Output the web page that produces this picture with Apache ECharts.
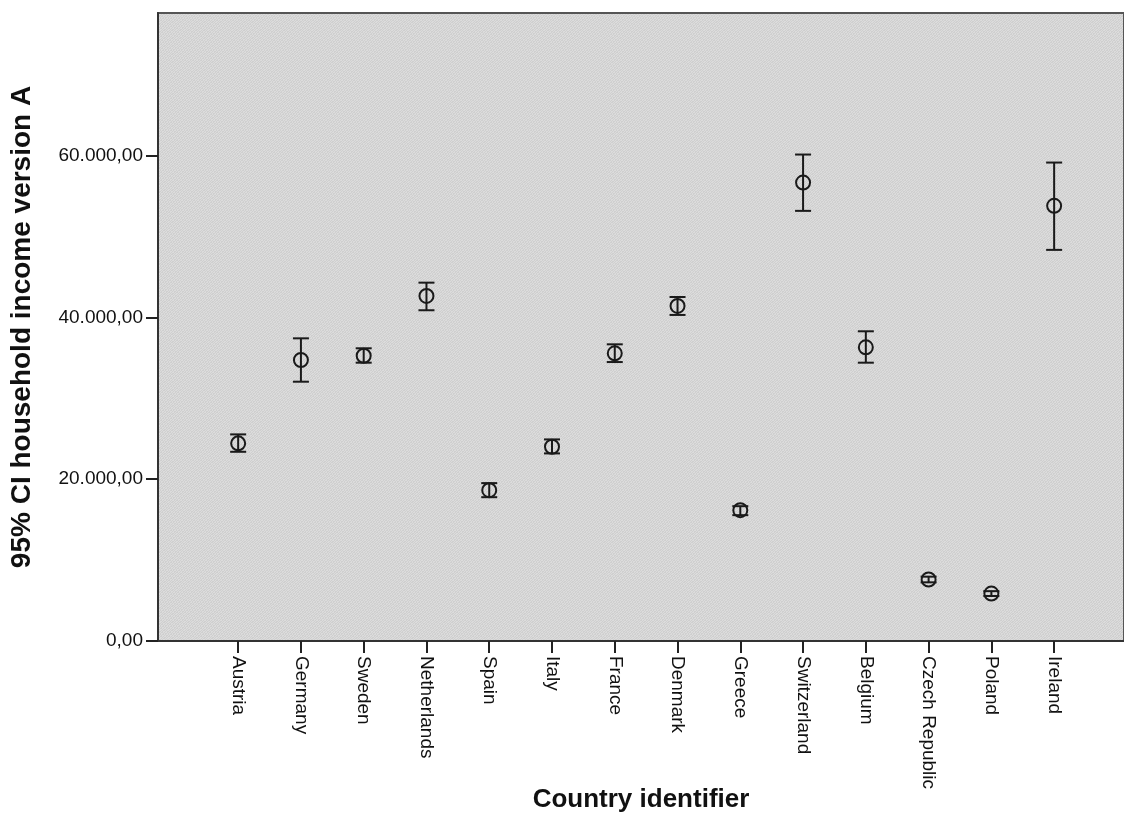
<!DOCTYPE html>
<html>
<head>
<meta charset="utf-8">
<script src="https://cdn.jsdelivr.net/npm/echarts@6/dist/echarts.min.js"></script>
<style>
  html, body { margin: 0; padding: 0; background: #ffffff; }
  #chart { width: 1124px; height: 833px; }
</style>
</head>
<body>
<div id="chart"></div>
<script>
// Mean household income (version A) per country with 95% confidence interval
const countries = ['Austria', 'Germany', 'Sweden', 'Netherlands', 'Spain', 'Italy', 'France',
  'Denmark', 'Greece', 'Switzerland', 'Belgium', 'Czech Republic', 'Poland', 'Ireland'];
const means = [24420, 34720, 35250, 42640, 18640, 24000, 35550, 41400, 16170, 56650, 36290, 7600, 5860, 53770];
const lower = [23380, 32040, 34390, 40870, 17770, 23180, 34470, 40290, 15550, 53150, 34390, 7250, 5560, 48330];
const upper = [25530, 37400, 36170, 44280, 19510, 24910, 36660, 42510, 16660, 60110, 38270, 7950, 6160, 59120];
const yTicks = [0, 20000, 40000, 60000];

// German-style number format: 60.000,00
function fmtNumber(v) {
  const parts = v.toFixed(2).split('.');
  const intPart = parts[0].replace(/\B(?=(\d{3})+(?!\d))/g, '.');
  return intPart + ',' + parts[1];
}

// Fine grey texture for the plot background
function makeTexture() {
  const bits = [
    '01101001',
    '10010110',
    '10110100',
    '01001011',
    '11010010',
    '00101101',
    '01011010',
    '10100101'
  ];
  const c = document.createElement('canvas');
  c.width = 8; c.height = 8;
  const ctx = c.getContext('2d');
  for (let y = 0; y < 8; y++) {
    for (let x = 0; x < 8; x++) {
      ctx.fillStyle = bits[y][x] === '1' ? '#cfcfcf' : '#dcdcdc';
      ctx.fillRect(x, y, 1, 1);
    }
  }
  return c;
}

const catIdx = countries.map((_, i) => i);
const meanData = means.map((m, i) => [i, m]);
const ciData = lower.map((lo, i) => [i, lo, upper[i]]);

const chart = echarts.init(document.getElementById('chart'), null, { renderer: 'canvas' });

chart.setOption({
  animation: false,
  backgroundColor: '#ffffff',
  grid: {
    left: 157,
    right: 0,
    top: 13,
    bottom: 192,
    show: true,
    backgroundColor: { image: makeTexture(), repeat: 'repeat' },
    borderColor: '#555555',
    borderWidth: 2
  },
  xAxis: {
    type: 'value',
    min: -1.277,
    max: 14.113,
    name: 'Country identifier',
    nameLocation: 'middle',
    nameGap: 146,
    nameMoveOverlap: false,
    nameTextStyle: { fontFamily: 'Liberation Sans', fontWeight: 'bold', fontSize: 26, color: '#111111' },
    splitLine: { show: false },
    axisLine: { show: true, onZero: false, lineStyle: { color: '#333333', width: 2 } },
    axisTick: { show: true, length: 12, customValues: catIdx, lineStyle: { color: '#222222', width: 2 } },
    axisLabel: {
      customValues: catIdx,
      rotate: -90,
      margin: 15,
      fontFamily: 'Liberation Sans',
      fontSize: 19,
      color: '#111111',
      formatter: v => countries[Math.round(v)]
    }
  },
  yAxis: {
    type: 'value',
    min: 0,
    max: 77600,
    name: '95% CI household income version A',
    nameLocation: 'middle',
    nameRotate: 90,
    nameGap: 122,
    nameMoveOverlap: false,
    nameTextStyle: { fontFamily: 'Liberation Sans', fontWeight: 'bold', fontSize: 28, color: '#111111' },
    splitLine: { show: false },
    axisLine: { show: true, onZero: false, lineStyle: { color: '#333333', width: 2 } },
    axisTick: { show: true, length: 12, customValues: yTicks, lineStyle: { color: '#222222', width: 2 } },
    axisLabel: {
      customValues: yTicks,
      margin: 15,
      fontFamily: 'Liberation Sans',
      fontSize: 19,
      color: '#111111',
      formatter: v => fmtNumber(v)
    }
  },
  series: [
    {
      type: 'scatter',
      data: meanData,
      symbol: 'circle',
      symbolSize: 14,
      itemStyle: { color: 'rgba(0,0,0,0)', borderColor: '#1a1a1a', borderWidth: 2, opacity: 1 },
      z: 3
    },
    {
      type: 'custom',
      data: ciData,
      z: 4,
      renderItem: function (params, api) {
        const x = api.value(0);
        const lo = api.coord([x, api.value(1)]);
        const hi = api.coord([x, api.value(2)]);
        const half = 8;
        const style = { stroke: '#1a1a1a', lineWidth: 2 };
        return {
          type: 'group',
          children: [
            { type: 'line', shape: { x1: lo[0], y1: lo[1], x2: hi[0], y2: hi[1] }, style: style },
            { type: 'line', shape: { x1: lo[0] - half, y1: lo[1], x2: lo[0] + half, y2: lo[1] }, style: style },
            { type: 'line', shape: { x1: hi[0] - half, y1: hi[1], x2: hi[0] + half, y2: hi[1] }, style: style }
          ]
        };
      }
    }
  ]
});
</script>
</body>
</html>
